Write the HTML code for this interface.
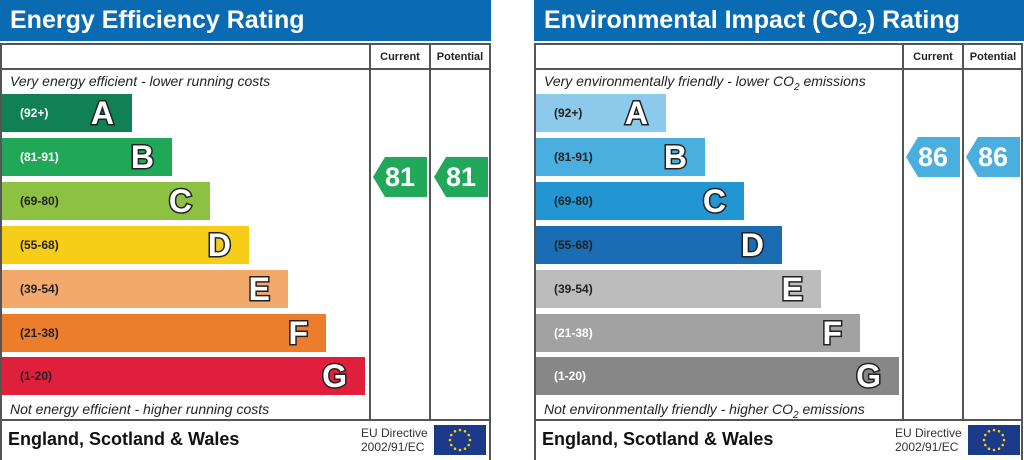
<!DOCTYPE html>
<html><head><meta charset="utf-8"><style>
*{margin:0;padding:0;box-sizing:border-box}
body{width:1024px;height:460px;background:#fff;position:relative;overflow:hidden;font-family:"Liberation Sans",sans-serif}
.a{position:absolute}
.hd{background:#0b6bb2;color:#fff;font-weight:bold;font-size:25px;height:41px;line-height:41px;padding-left:10px}
.box{border:2px solid #555;border-bottom:none}
.vl{width:2px;background:#555}
.hl{height:2px;background:#555}
.ch{font-size:11px;font-weight:bold;color:#222;text-align:center}
.it{font-style:italic;font-size:14px;color:#222}
.bar{height:38px}
.rng{position:absolute;left:18px;top:12px;font-size:12px;font-weight:bold;color:#fff}
.lt{position:absolute;right:18px;top:1px;font-size:32px;font-weight:bold;color:#fff;-webkit-text-stroke:3px #222;paint-order:stroke fill}
.ft{font-size:18px;font-weight:bold;color:#111}
.eu{font-size:12px;color:#333;line-height:14px}
.flag{width:52px;height:30px;background:#1c3a8a}
.arr{height:40px;color:#fff;font-size:27px;font-weight:bold;line-height:40px;text-align:center;clip-path:polygon(12px 0,100% 0,100% 100%,12px 100%,0 50%)}
</style></head><body>

<!-- LEFT -->
<div class="a hd" style="left:0;top:0;width:491px">Energy Efficiency Rating</div>
<div class="a box" style="left:0;top:43px;width:491px;height:417px"></div>
<div class="a vl" style="left:369px;top:43px;height:377px"></div>
<div class="a vl" style="left:429px;top:43px;height:377px"></div>
<div class="a hl" style="left:0;top:68px;width:491px"></div>
<div class="a hl" style="left:0;top:419px;width:491px"></div>
<div class="a ch" style="left:371px;top:51px;width:58px">Current</div>
<div class="a ch" style="left:431px;top:51px;width:58px">Potential</div>
<div class="a it" style="left:10px;top:73px">Very energy efficient - lower running costs</div>
<div class="a it" style="left:10px;top:401px">Not energy efficient - higher running costs</div>
<div class="a bar" style="left:2px;top:94px;width:130px;background:#0f8154"><span class="rng">(92+)</span><span class="lt">A</span></div>
<div class="a bar" style="left:2px;top:138px;width:170px;background:#20a757"><span class="rng">(81-91)</span><span class="lt">B</span></div>
<div class="a bar" style="left:2px;top:182px;width:208px;background:#8cc141"><span class="rng" style="color:#222">(69-80)</span><span class="lt">C</span></div>
<div class="a bar" style="left:2px;top:226px;width:247px;background:#f6cd18"><span class="rng" style="color:#222">(55-68)</span><span class="lt">D</span></div>
<div class="a bar" style="left:2px;top:270px;width:286px;background:#f3a96c"><span class="rng" style="color:#222">(39-54)</span><span class="lt">E</span></div>
<div class="a bar" style="left:2px;top:314px;width:324px;background:#ec7d2a"><span class="rng" style="color:#222">(21-38)</span><span class="lt">F</span></div>
<div class="a bar" style="left:2px;top:357px;width:363px;background:#e01f3d"><span class="rng" style="color:#222">(1-20)</span><span class="lt">G</span></div>
<div class="a arr" style="left:373px;top:157px;width:54px;background:#22a85a">81</div>
<div class="a arr" style="left:434px;top:157px;width:54px;background:#22a85a">81</div>
<div class="a ft" style="left:8px;top:429px">England, Scotland &amp; Wales</div>
<div class="a eu" style="left:361px;top:426px">EU Directive<br>2002/91/EC</div>
<div class="a flag" style="left:434px;top:425px"><svg width="52" height="30"><g fill="#fc0"><circle cx="26" cy="5" r="1.3"/><circle cx="31" cy="6.3" r="1.3"/><circle cx="34.7" cy="10" r="1.3"/><circle cx="36" cy="15" r="1.3"/><circle cx="34.7" cy="20" r="1.3"/><circle cx="31" cy="23.7" r="1.3"/><circle cx="26" cy="25" r="1.3"/><circle cx="21" cy="23.7" r="1.3"/><circle cx="17.3" cy="20" r="1.3"/><circle cx="16" cy="15" r="1.3"/><circle cx="17.3" cy="10" r="1.3"/><circle cx="21" cy="6.3" r="1.3"/></g></svg></div>

<!-- RIGHT -->
<div class="a hd" style="left:534px;top:0;width:490px">Environmental Impact (CO<sub style="font-size:16px">2</sub>) Rating</div>
<div class="a box" style="left:534px;top:43px;width:489px;height:417px"></div>
<div class="a vl" style="left:902px;top:43px;height:377px"></div>
<div class="a vl" style="left:962px;top:43px;height:377px"></div>
<div class="a hl" style="left:534px;top:68px;width:489px"></div>
<div class="a hl" style="left:534px;top:419px;width:489px"></div>
<div class="a ch" style="left:904px;top:51px;width:58px">Current</div>
<div class="a ch" style="left:964px;top:51px;width:58px">Potential</div>
<div class="a it" style="left:544px;top:73px">Very environmentally friendly - lower CO<sub style="font-size:10px">2</sub> emissions</div>
<div class="a it" style="left:544px;top:401px">Not environmentally friendly - higher CO<sub style="font-size:10px">2</sub> emissions</div>
<div class="a bar" style="left:536px;top:94px;width:130px;background:#8dc9ea"><span class="rng" style="color:#222">(92+)</span><span class="lt">A</span></div>
<div class="a bar" style="left:536px;top:138px;width:169px;background:#4aaedf"><span class="rng" style="color:#222">(81-91)</span><span class="lt">B</span></div>
<div class="a bar" style="left:536px;top:182px;width:208px;background:#2196d3"><span class="rng" style="color:#222">(69-80)</span><span class="lt">C</span></div>
<div class="a bar" style="left:536px;top:226px;width:246px;background:#1a6db3"><span class="rng" style="color:#222">(55-68)</span><span class="lt">D</span></div>
<div class="a bar" style="left:536px;top:270px;width:285px;background:#bcbcbc"><span class="rng" style="color:#222">(39-54)</span><span class="lt">E</span></div>
<div class="a bar" style="left:536px;top:314px;width:324px;background:#a2a2a2"><span class="rng">(21-38)</span><span class="lt">F</span></div>
<div class="a bar" style="left:536px;top:357px;width:363px;background:#878787"><span class="rng">(1-20)</span><span class="lt">G</span></div>
<div class="a arr" style="left:906px;top:137px;width:54px;background:#4aaedf">86</div>
<div class="a arr" style="left:966px;top:137px;width:54px;background:#4aaedf">86</div>
<div class="a ft" style="left:542px;top:429px">England, Scotland &amp; Wales</div>
<div class="a eu" style="left:895px;top:426px">EU Directive<br>2002/91/EC</div>
<div class="a flag" style="left:968px;top:425px"><svg width="52" height="30"><g fill="#fc0"><circle cx="26" cy="5" r="1.3"/><circle cx="31" cy="6.3" r="1.3"/><circle cx="34.7" cy="10" r="1.3"/><circle cx="36" cy="15" r="1.3"/><circle cx="34.7" cy="20" r="1.3"/><circle cx="31" cy="23.7" r="1.3"/><circle cx="26" cy="25" r="1.3"/><circle cx="21" cy="23.7" r="1.3"/><circle cx="17.3" cy="20" r="1.3"/><circle cx="16" cy="15" r="1.3"/><circle cx="17.3" cy="10" r="1.3"/><circle cx="21" cy="6.3" r="1.3"/></g></svg></div>
</body></html>
